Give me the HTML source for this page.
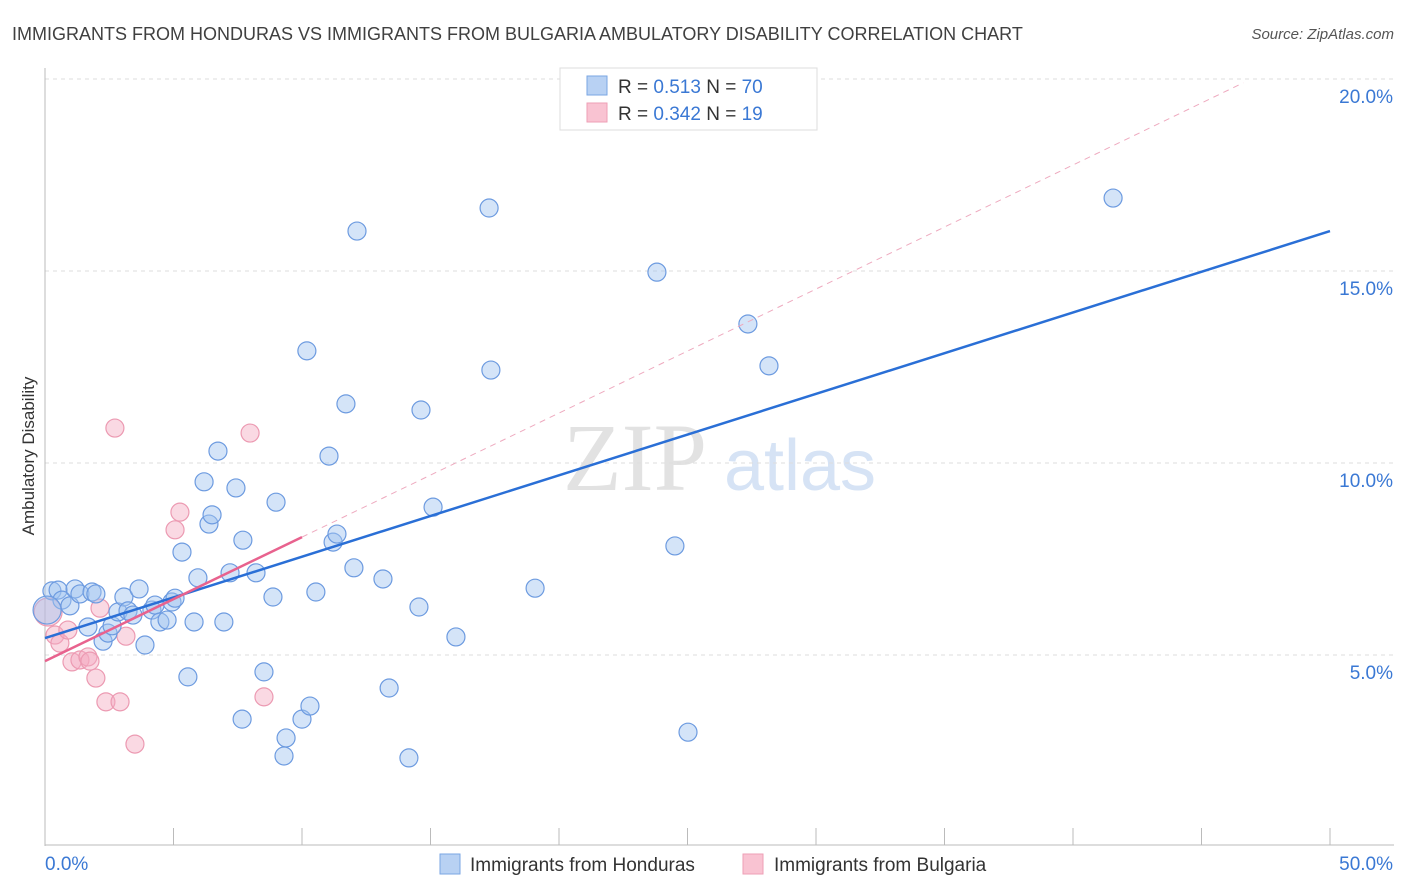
<!DOCTYPE html>
<html><head><meta charset="utf-8"><style>
body{margin:0;background:#fff;font-family:"Liberation Sans",sans-serif;}
svg{display:block}
</style></head><body>
<svg id="chart" width="1406" height="892" xmlns="http://www.w3.org/2000/svg">
<text x="12" y="40" font-size="18" fill="#404040">IMMIGRANTS FROM HONDURAS VS IMMIGRANTS FROM BULGARIA AMBULATORY DISABILITY CORRELATION CHART</text>
<text x="1394" y="39" font-size="15" fill="#555" font-style="italic" text-anchor="end">Source: ZipAtlas.com</text>
<g>
<text x="635" y="490" font-size="96" font-family="Liberation Serif,serif" fill="#e2e2e2" text-anchor="middle">ZIP</text>
<text x="800" y="490" font-size="72" fill="#d6e3f5" text-anchor="middle">atlas</text>
</g>
<g id="grid"></g>
<g id="axes"></g>
<g id="marks"></g>
<text transform="translate(34,456) rotate(-90)" font-size="17" fill="#333" text-anchor="middle">Ambulatory Disability</text>
<g>
<rect x="560" y="68" width="257" height="62" fill="#fff" stroke="#ddd"/>
<rect x="587" y="76" width="20" height="19" fill="#b8d1f3" stroke="#7aa6e3"/>
<rect x="587" y="103" width="20" height="19" fill="#f9c3d2" stroke="#ee9fb6"/>
<text x="618" y="93" font-size="19" fill="#333">R = <tspan fill="#3a78d4"> 0.513</tspan>   N = <tspan fill="#3a78d4">70</tspan></text>
<text x="618" y="120" font-size="19" fill="#333">R = <tspan fill="#3a78d4">0.342</tspan>   N = <tspan fill="#3a78d4"> 19</tspan></text>
</g>
<g>
<rect x="440" y="854" width="20" height="20" fill="#b8d1f3" stroke="#7aa6e3"/>
<text x="470" y="871" font-size="19" fill="#333">Immigrants from Honduras</text>
<rect x="743" y="854" width="20" height="20" fill="#f9c3d2" stroke="#ee9fb6"/>
<text x="774" y="871" font-size="19" fill="#333">Immigrants from Bulgaria</text>
</g>
</svg>
<script>
const xTicks=[0,5,10,15,20,25,30,35,40,45,50];
const yTicks=[5,10,15,20];
const yTickLabels=["5.0%","10.0%","15.0%","20.0%"];
const xEndLabels=["0.0%","50.0%"];
const blueX=[0.27,0.51,0.66,0.97,1.17,1.36,1.83,1.98,1.67,2.26,2.45,2.61,2.84,3.07,3.23,3.66,3.42,3.89,4.16,4.28,4.47,4.75,4.94,5.06,5.33,5.56,5.80,5.95,6.19,6.38,6.50,6.73,6.96,7.20,7.43,7.67,7.70,8.21,8.52,8.87,8.99,9.38,9.30,10.00,10.19,10.31,10.54,11.05,11.21,11.36,11.71,12.02,12.14,13.15,13.39,14.16,14.55,14.63,15.10,15.99,17.28,17.35,19.07,23.81,24.51,25.02,27.35,28.17,41.56,0.08];
const blueY=[6.67,6.69,6.43,6.28,6.72,6.59,6.64,6.59,5.73,5.36,5.57,5.76,6.12,6.51,6.15,6.72,6.04,5.26,6.17,6.30,5.86,5.91,6.38,6.48,7.68,4.43,5.86,7.01,9.51,8.41,8.65,10.31,5.86,7.14,9.35,3.33,7.99,7.14,4.56,6.51,8.98,2.84,2.37,3.33,12.92,3.67,6.64,10.18,7.94,8.15,11.54,7.27,16.04,6.98,4.14,2.32,6.25,11.38,8.85,5.47,16.64,12.42,6.74,14.97,7.84,2.99,13.62,12.53,16.90,6.17];
const pinkX=[0.12,0.39,0.58,0.89,1.05,1.36,1.67,1.75,1.98,2.14,2.37,2.92,2.72,3.15,3.50,5.06,5.25,7.98,8.52];
const pinkY=[6.12,5.52,5.31,5.65,4.82,4.87,4.95,4.84,4.40,6.22,3.78,3.78,10.91,5.49,2.68,8.26,8.72,10.78,3.91];
const blueTrend=[5.44,0.212];
const pinkTrend=[4.84,0.323];
const NS="http://www.w3.org/2000/svg";
const X=v=>45+v*25.7, Y=v=>847-v*38.4;
function mk(tag,attrs,parent){const e=document.createElementNS(NS,tag);for(const k in attrs)e.setAttribute(k,attrs[k]);parent.appendChild(e);return e;}
const grid=document.getElementById('grid'),axes=document.getElementById('axes'),marks=document.getElementById('marks');
yTicks.forEach((t,i)=>{
 const l=mk('line',{x1:45,x2:1394,y1:Y(t),y2:Y(t),stroke:'#ddd','stroke-dasharray':'4,4'},grid);
 
 
 const tx=mk('text',{x:1393,y:Y(t)+24,'font-size':19,fill:'#3a78d4','text-anchor':'end'},axes);
 tx.textContent=yTickLabels[i];
 
 
});
mk('line',{x1:45,x2:1394,y1:79,y2:79,stroke:'#ddd','stroke-dasharray':'4,4'},grid);
mk('line',{x1:45,x2:45,y1:68,y2:846,stroke:'#bbb'},axes);
mk('line',{x1:45,x2:1394,y1:845,y2:845,stroke:'#bbb'},axes);
xTicks.forEach(t=>{const l=mk('line',{x1:X(t),x2:X(t),y1:828,y2:845,stroke:'#bbb'},axes);
 
 });
const a=mk('text',{x:45,y:870,'font-size':19,fill:'#3a78d4'},axes);a.textContent=xEndLabels[0];
const b=mk('text',{x:1393,y:870,'font-size':19,fill:'#3a78d4','text-anchor':'end'},axes);b.textContent=xEndLabels[1];
function dot(x,y,big,blue){
 const c=mk('circle',{cx:X(x),cy:Y(y),r:big?14:9,fill:blue?'rgba(160,195,240,0.45)':'rgba(244,170,192,0.45)',stroke:blue?'#6d9be0':'#ec9ab2','stroke-width':1.2},marks);
 
 
}
pinkX.forEach((x,i)=>dot(x,pinkY[i],i===0,false));
blueX.forEach((x,i)=>dot(x,blueY[i],i===blueX.length-1,true));
const pEnd=(19.9-pinkTrend[0])/pinkTrend[1];
const pd=mk('line',{x1:X(10),y1:Y(pinkTrend[0]+pinkTrend[1]*10),x2:X(pEnd),y2:Y(pinkTrend[0]+pinkTrend[1]*pEnd),stroke:'#eeaabf','stroke-dasharray':'6,5','stroke-width':1},marks);


const bl=mk('line',{x1:X(0),y1:Y(blueTrend[0]),x2:X(50),y2:Y(blueTrend[0]+blueTrend[1]*50),stroke:'#2a6fd6','stroke-width':2.5},marks);


const pl=mk('line',{x1:X(0),y1:Y(pinkTrend[0]),x2:X(10),y2:Y(pinkTrend[0]+pinkTrend[1]*10),stroke:'#e8628e','stroke-width':2.5},marks);


</script>
</body></html>
